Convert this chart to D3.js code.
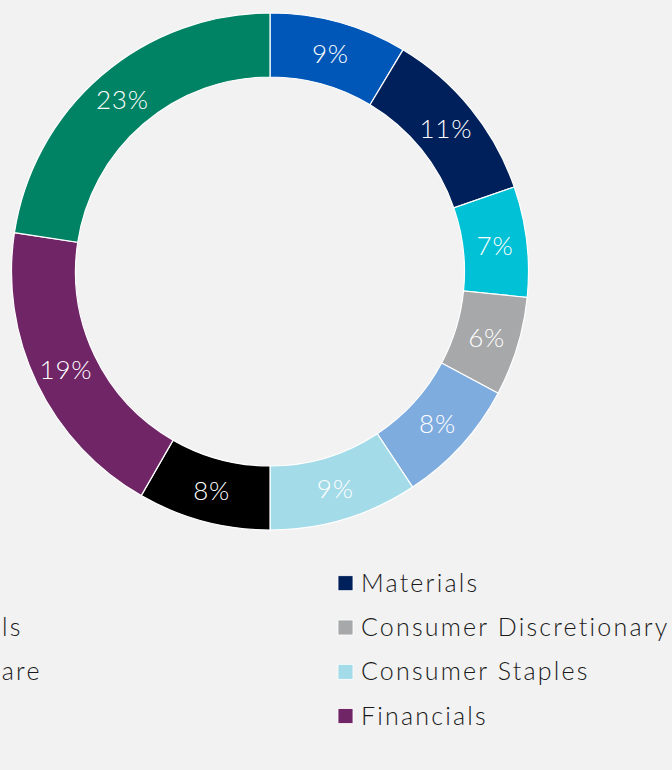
<!DOCTYPE html>
<html>
<head>
<meta charset="utf-8">
<script src="https://cdn.jsdelivr.net/npm/d3@7"></script>
<style>
  body { margin: 0; background: #f2f2f2; }
  svg { display: block; }
  text { font-family: Lato, "Open Sans", sans-serif; }
</style>
</head>
<body>
<svg id="chart"></svg>
<script>
// sector weights, clockwise from 12 o'clock
const sectors = ["Energy", "Materials", "Industrials", "Consumer Discretionary", "Health Care",
                 "Consumer Staples", "Utilities", "Financials", "Other"];
const weights = [8.6, 11.1, 6.9, 6.2, 7.9, 9.3, 8.3, 19.1, 22.6];
const colors = ["#0057b8", "#00205b", "#00c1d5", "#a7a8aa", "#7facdf",
                "#a4dbe8", "#000000", "#6f2566", "#008264"];

const width = 672, height = 770;
const cx = 270, cy = 271.5;
const outerR = 258.5, innerR = 194.5;

const svg = d3.select('#chart')
    .attr('width', width)
    .attr('height', height);

const data = sectors.map((s, i) => ({ name: s, value: weights[i], color: colors[i] }));

const pie = d3.pie().sort(null).value(d => d.value);
const arc = d3.arc().innerRadius(innerR).outerRadius(outerR);

const g = svg.append('g')
    .attr('transform', `translate(${cx},${cy})`);

g.selectAll('path').data(pie(data))
  .join('path')
    .attr('d', arc)
    .attr('fill', d => d.data.color)
    .attr('stroke', '#ffffff')
    .attr('stroke-width', 1.2);

g.selectAll('text.lbl').data(pie(data))
  .join('text')
    .attr('class', 'lbl')
    .attr('transform', d => `translate(${arc.centroid(d)})`)
    .attr('text-anchor', 'middle')
    .attr('dy', '0.36em')
    .attr('fill', '#ffffff')
    .attr('font-size', 26)
    .attr('font-weight', 300)
    .attr('letter-spacing', 0.8)
    .text(d => d3.format('.0f')(d.data.value) + '%');

// legend: two columns, row-major (left column runs off the page edge)
const colX = [-134, 338];
const rowY0 = 575.7, rowStep = 44.3, sq = 15;

const legend = svg.append('g');
const item = legend.selectAll('g').data(data)
  .join('g')
    .attr('transform', (d, i) => `translate(${colX[i % 2]},${rowY0 + Math.floor(i / 2) * rowStep})`);

item.append('rect')
    .attr('width', sq)
    .attr('height', sq)
    .attr('fill', d => d.color)
    .attr('stroke', '#ffffff')
    .attr('stroke-width', 0.8);

item.append('text')
    .attr('x', 23)
    .attr('y', sq + 1)
    .attr('fill', '#1a1a1a')
    .attr('font-size', 25)
    .attr('font-weight', 300)
    .attr('letter-spacing', 2.2)
    .text(d => d.name);
</script>
</body>
</html>
